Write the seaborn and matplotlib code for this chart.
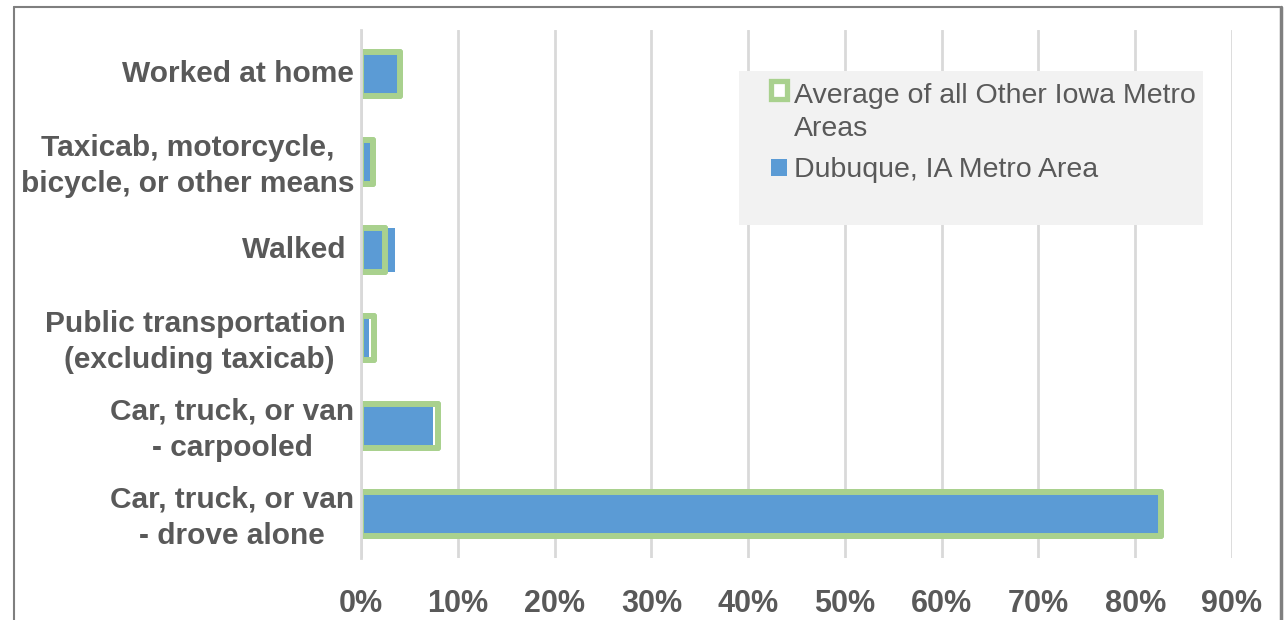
import matplotlib
matplotlib.use("Agg")
import matplotlib.pyplot as plt
from matplotlib.patches import Patch, Rectangle
from matplotlib.lines import Line2D
from matplotlib.legend_handler import HandlerPatch
from matplotlib.ticker import FuncFormatter, MultipleLocator
from matplotlib.transforms import ScaledTranslation
import seaborn as sns
import pandas as pd

# Means of transportation to work (share of workers)
categories = [
    "Worked at home",
    "Taxicab, motorcycle,\nbicycle, or other means",
    "Walked ",
    "Public transportation \n(excluding taxicab)",
    "Car, truck, or van\n- carpooled",
    "Car, truck, or van\n- drove alone",
]
iowa_avg = [0.040, 0.012, 0.025, 0.013, 0.080, 0.827]
dubuque = [0.038, 0.009, 0.035, 0.008, 0.074, 0.825]

series_avg = "Average of all Other Iowa Metro\nAreas"
series_dbq = "Dubuque, IA Metro Area"

BLUE = "#5b9bd5"
GREEN = "#a9d18e"
TEXT = "#595959"
GRID = "#d9d9d9"

df = pd.DataFrame({"mode": categories, "avg": iowa_avg, "dbq": dubuque})

sns.set_theme(style="white")
plt.rcParams["font.family"] = ["Liberation Sans", "DejaVu Sans"]

fig = plt.figure(figsize=(12.87, 6.2), dpi=100)
ax = fig.add_axes([361 / 1287, 1 - 558 / 620, (1232 - 361) / 1287, (558 - 30) / 620])

edge_lw = 4.3
# Iowa average: white body with green outline
sns.barplot(data=df, x="avg", y="mode", orient="h", color="white", saturation=1,
            width=0.5, errorbar=None, edgecolor=GREEN, linewidth=edge_lw, ax=ax, zorder=2)
# Dubuque bars on top of the body
sns.barplot(data=df, x="dbq", y="mode", orient="h", color=BLUE, saturation=1,
            width=0.5, errorbar=None, linewidth=0, ax=ax, zorder=3)
# Green outline again so it stays visible over the blue bars
sns.barplot(data=df, x="avg", y="mode", orient="h", color="white", saturation=1,
            width=0.5, errorbar=None, edgecolor=GREEN, linewidth=edge_lw, ax=ax, zorder=4)
for p in ax.containers[2]:
    p.set_facecolor("none")
    p.set_joinstyle("round")
for p in ax.containers[0]:
    p.set_joinstyle("round")

ax.set_xlim(0, 0.9)
ax.xaxis.set_major_locator(MultipleLocator(0.1))
ax.xaxis.set_major_formatter(FuncFormatter(lambda v, _: f"{v * 100:.0f}%"))
ax.grid(axis="x", color=GRID, linewidth=2, zorder=0)
ax.set_axisbelow(True)
for s in ["top", "right", "bottom"]:
    ax.spines[s].set_visible(False)
ax.spines["left"].set_color(GRID)
ax.spines["left"].set_linewidth(2)
ax.spines["left"].set_zorder(5)
ax.set_xlabel("")
ax.set_ylabel("")
ax.tick_params(axis="x", length=0, pad=22, labelsize=22, labelcolor=TEXT)
ax.tick_params(axis="y", length=0, pad=5, labelsize=21.5, labelcolor=TEXT)
for lbl in ax.get_xticklabels() + ax.get_yticklabels():
    lbl.set_fontweight("bold")
nudge_up = ScaledTranslation(0, 3 / 100, fig.dpi_scale_trans)
for lbl in ax.get_yticklabels():
    lbl.set_multialignment("center")
    lbl.set_linespacing(1.38)
    lbl.set_transform(lbl.get_transform() + nudge_up)

# Legend panel
fig.add_artist(Rectangle((739 / 1287, 1 - 225 / 620), (1203 - 739) / 1287, (225 - 71) / 620,
                         transform=fig.transFigure, facecolor="#f2f2f2", edgecolor="none", zorder=6))


def first_line_patch(legend, orig_handle, xdescent, ydescent, width, height, fontsize):
    # keep the key next to the first line of a wrapped label
    lines = legend_lines.get(orig_handle.get_label(), 1)
    shift = (lines - 1) * fontsize * 1.35 * 1.17 / 2
    return Rectangle((-xdescent, -ydescent + shift), width, height)


handles = [
    Patch(facecolor="white", edgecolor=GREEN, linewidth=3.8, label=series_avg),
    Patch(facecolor=BLUE, edgecolor="none", label=series_dbq),
]
legend_lines = {h.get_label(): h.get_label().count("\n") + 1 for h in handles}
leg = fig.legend(handles=handles, loc="upper left", bbox_to_anchor=(748 / 1287, 1 - 60 / 620),
                 frameon=False, fontsize=20.5, labelcolor=TEXT, handlelength=0.58,
                 handleheight=0.58, handletextpad=0.25, labelspacing=0.55, borderpad=0.3,
                 handler_map={Patch: HandlerPatch(patch_func=first_line_patch)})
leg.set_zorder(7)
for t in leg.get_texts():
    t.set_linespacing(1.35)

# Outer chart frame
fig.add_artist(Line2D([14 / 1287, 14 / 1287], [-0.05, 1 - 7 / 620], transform=fig.transFigure,
                      color="#7f7f7f", linewidth=1.5))
fig.add_artist(Line2D([14 / 1287, 1280 / 1287], [1 - 7 / 620, 1 - 7 / 620], transform=fig.transFigure,
                      color="#7f7f7f", linewidth=1.5))
fig.add_artist(Line2D([1280.5 / 1287, 1280.5 / 1287], [-0.05, 1 - 7 / 620], transform=fig.transFigure,
                      color="#7f7f7f", linewidth=2.5))

fig.savefig("out.png", dpi=100)
